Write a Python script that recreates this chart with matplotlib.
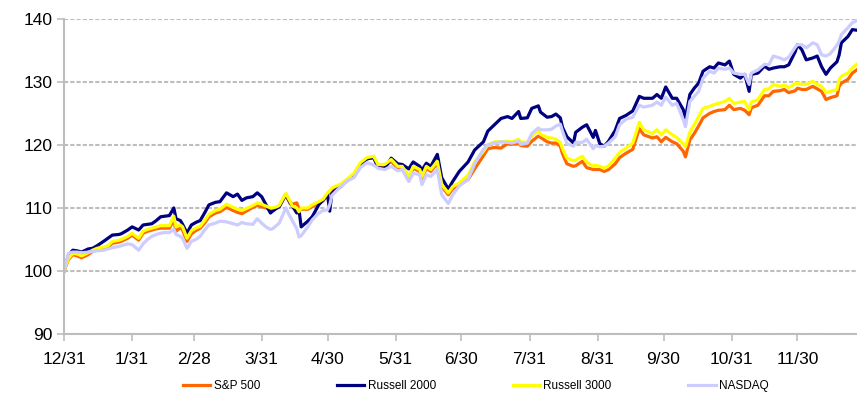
import matplotlib.pyplot as plt

# days after 12/31 of the previous year
days = [0, 2, 4, 6, 8, 11, 13, 15, 18, 20, 22, 25, 26, 29, 31, 34, 36, 38, 40, 42,
        44, 46, 48, 50, 51, 53, 54, 56, 58, 60, 62, 64, 66, 69, 71, 74, 77, 79, 81, 83,
        86, 88, 90, 92, 94, 95, 97, 98, 101, 103, 104, 106, 107, 108, 111, 113, 116, 118, 120, 121,
        122, 126, 129, 132, 135, 138, 141, 143, 146, 149, 152, 154, 157, 159, 162, 163, 165, 167, 170, 172,
        175, 177, 180, 184, 187, 191, 193, 196, 199, 202, 204, 207, 208, 211, 213, 216, 217, 220, 222, 224,
        226, 227, 229, 232, 233, 236, 238, 241, 242, 244, 246, 248, 251, 253, 256, 259, 262, 264, 268, 270,
        272, 274, 277, 279, 282, 283, 285, 287, 289, 291, 294, 296, 298, 301, 303, 305, 308, 310, 312, 313,
        316, 319, 321, 323, 326, 328, 330, 333, 334, 336, 338, 341, 343, 345, 347, 349, 352, 353, 354, 357,
        359, 361]

sp500 = [100, 101.8, 102.6, 102.4, 102.1, 102.6, 103.1, 103.4, 103.6, 103.8, 104.4, 104.6, 104.7, 105.2, 105.7, 104.9, 106.0, 106.3, 106.5, 106.7,
         106.8, 106.8, 106.8, 108.1, 106.3, 106.9, 106.5, 104.7, 105.9, 106.4, 106.8, 107.6, 108.6, 109.2, 109.4, 110.1, 109.6, 109.3, 109.1, 109.5,
         110.1, 110.4, 110.2, 110.0, 109.7, 109.8, 110.0, 110.2, 112.0, 110.7, 110.6, 110.8, 109.8, 109.8, 109.8, 110.2, 110.7, 111.1, 112.1, 112.4,
         112.9, 113.5, 114.3, 115.2, 116.9, 117.8, 118.0, 116.7, 116.6, 117.4, 116.3, 116.3, 114.7, 116.3, 115.8, 114.7, 116.3, 115.8, 117.1, 113.4,
         112.1, 113.0, 113.7, 114.5, 116.2, 118.3, 119.4, 119.6, 119.5, 120.2, 120.1, 120.3, 119.9, 119.8, 120.6, 121.4, 121.2, 120.5, 120.3, 120.3,
         119.8, 118.6, 117.0, 116.6, 116.7, 117.4, 116.4, 116.1, 116.1, 116.1, 115.8, 116.1, 117.0, 118.0, 118.7, 119.3, 122.6, 121.6, 121.1, 121.3,
         120.5, 121.2, 120.5, 120.2, 119.0, 118.1, 120.8, 121.8, 123.0, 124.3, 125.0, 125.3, 125.5, 125.6, 126.3, 125.6, 125.8, 125.5, 124.8, 125.9,
         126.3, 127.8, 127.8, 128.5, 128.6, 128.8, 128.3, 128.6, 129.0, 128.8, 128.8, 129.3, 128.9, 128.5, 127.2, 127.5, 127.8, 129.3, 129.8, 130.4,
         131.4, 131.9]

russell2000 = [100, 102.5, 103.3, 103.2, 103.0, 103.5, 103.6, 104.0, 104.7, 105.2, 105.7, 105.8, 105.9, 106.5, 107.0, 106.5, 107.3, 107.4, 107.5, 108.0,
               108.6, 108.7, 108.8, 110.0, 108.3, 108.0, 107.4, 106.0, 107.3, 107.7, 108.0, 109.2, 110.5, 110.9, 111.0, 112.4, 111.8, 112.2, 111.2, 111.6,
               111.8, 112.4, 111.8, 110.5, 109.2, 109.5, 110.0, 110.2, 112.2, 110.8, 110.3, 109.2, 109.7, 107.0, 107.9, 108.6, 110.5, 111.3, 112.1, 109.5,
               112.4, 113.4, 114.5, 115.0, 117.0, 117.8, 118.0, 116.4, 116.3, 117.9, 117.0, 116.9, 116.2, 117.3, 116.6, 116.0, 117.1, 116.6, 118.5, 114.8,
               113.0, 114.2, 115.8, 117.3, 119.2, 120.5, 122.2, 123.2, 124.2, 124.5, 124.2, 125.3, 124.2, 124.3, 125.8, 126.2, 125.2, 124.4, 124.5, 124.9,
               124.3, 122.8, 121.3, 120.3, 122.0, 122.8, 123.2, 121.2, 122.3, 120.2, 119.8, 120.6, 122.3, 124.2, 124.7, 125.4, 127.7, 127.4, 127.4, 128.0,
               127.4, 129.2, 127.4, 127.4, 125.6, 124.3, 128.0, 129.0, 129.8, 131.7, 132.4, 132.2, 133.0, 132.7, 133.3, 131.2, 130.6, 131.2, 128.5, 131.2,
               131.4, 132.5, 132.0, 132.2, 132.4, 132.4, 132.7, 134.8, 135.9, 135.1, 133.5, 133.8, 134.1, 132.4, 131.2, 132.2, 133.2, 134.3, 136.2, 137.2,
               138.3, 138.2]

russell3000 = [100, 102.0, 102.8, 102.7, 102.4, 102.9, 103.3, 103.6, 103.8, 104.0, 104.7, 104.9, 105.0, 105.5, 106.0, 105.2, 106.3, 106.6, 106.8, 107.0,
               107.2, 107.2, 107.2, 108.7, 107.0, 107.3, 107.0, 105.2, 106.4, 106.8, 107.1, 108.0, 109.0, 109.6, 109.8, 110.6, 110.1, 109.8, 109.6, 109.9,
               110.4, 110.8, 110.6, 110.3, 110.0, 110.0, 110.2, 110.4, 112.3, 111.0, 110.3, 110.0, 109.4, 110.0, 110.0, 110.5, 111.0, 111.4, 112.4, 112.7,
               113.2, 113.8, 114.6, 115.5, 117.2, 118.0, 118.2, 116.9, 116.9, 117.7, 116.6, 116.6, 115.0, 116.6, 116.1, 115.0, 116.6, 116.1, 117.4, 113.7,
               112.4, 113.4, 114.0, 115.2, 117.3, 119.0, 120.0, 120.5, 120.5, 120.6, 120.5, 120.9, 120.5, 120.4, 121.4, 122.3, 121.7, 121.2, 121.1, 120.9,
               120.4, 119.4, 117.9, 117.5, 117.6, 118.2, 117.3, 116.6, 116.8, 116.6, 116.3, 116.7, 117.9, 118.8, 119.5, 120.3, 123.6, 122.4, 121.8, 122.4,
               121.6, 122.4, 121.6, 121.2, 120.2, 119.7, 122.0, 123.2, 124.5, 125.8, 126.1, 126.4, 126.6, 126.9, 127.4, 126.6, 126.8, 126.9, 125.6, 126.8,
               127.2, 128.8, 128.9, 129.6, 129.3, 129.5, 129.1, 129.7, 129.8, 129.6, 129.6, 130.1, 129.6, 129.3, 128.3, 128.5, 128.8, 130.4, 130.9, 131.4,
               132.2, 132.8]

nasdaq = [100, 102.8, 103.0, 103.0, 102.9, 103.0, 103.1, 103.2, 103.3, 103.5, 103.7, 103.9, 104.0, 104.3, 104.2, 103.3, 104.3, 105.0, 105.5, 105.8,
          106.0, 106.1, 106.1, 106.6, 105.8, 105.5, 105.2, 103.6, 104.7, 105.0, 105.5, 106.5, 107.3, 107.6, 107.9, 107.8, 107.5, 107.3, 107.7, 107.5,
          107.4, 108.3, 107.6, 107.0, 106.6, 106.7, 107.3, 107.6, 110.0, 108.6, 108.0, 106.7, 105.4, 105.6, 107.0, 108.1, 109.2, 109.6, 109.7, 110.5,
          112.0, 113.4, 114.3, 114.8, 116.4, 117.2, 116.8, 116.3, 116.1, 116.6, 115.9, 116.1, 114.2, 115.5, 115.3, 113.7, 115.3, 115.0, 116.1, 112.1,
          110.7, 112.1, 113.5, 114.5, 117.0, 119.3, 120.0, 120.3, 120.5, 120.4, 120.3, 120.6, 120.1, 120.3, 121.8, 122.7, 122.4, 122.4, 122.5, 123.0,
          123.3, 122.2, 120.2, 119.8, 120.4, 120.4, 120.9, 119.4, 119.9, 119.7, 119.8, 120.3, 121.3, 123.2, 124.1, 124.4, 126.3, 126.0, 126.3, 126.8,
          126.3, 127.6, 126.3, 126.6, 124.0, 122.9, 126.9, 127.7, 128.5, 130.6, 131.7, 131.4, 132.2, 132.0, 132.2, 131.4, 131.2, 131.2, 129.6, 131.4,
          131.9, 132.8, 132.7, 134.1, 133.8, 133.5, 133.9, 135.5, 135.9, 135.9, 135.4, 136.2, 135.9, 134.3, 134.1, 134.5, 135.8, 136.5, 137.5, 138.6,
          139.4, 139.7]

month_ticks = [0, 31, 59, 90, 120, 151, 181, 212, 243, 273, 304, 334]
month_labels = ['12/31', '1/31', '2/28', '3/31', '4/30', '5/31', '6/30', '7/31', '8/31', '9/30', '10/31', '11/30']

plt.rcParams['font.family'] = ['Liberation Sans', 'DejaVu Sans']

fig = plt.figure(figsize=(8.57, 3.93), dpi=100)
ax = fig.add_axes([0.0747, 0.150, 0.925, 0.802])

ax.plot(days, sp500, color='#FF6600', lw=2.3, label='S&P 500')
ax.plot(days, russell2000, color='#000080', lw=2.3, label='Russell 2000')
ax.plot(days, russell3000, color='#FFFF00', lw=2.3, label='Russell 3000')
ax.plot(days, nasdaq, color='#CCCCFF', lw=2.3, label='NASDAQ')

ax.set_ylim(90, 140)
ax.set_xlim(0, 361)
ax.set_yticks(range(90, 141, 10))
ax.set_xticks(month_ticks)
ax.set_xticklabels(month_labels)
ax.yaxis.grid(True, color='#BDBDBD', ls=(0, (2, 1)), lw=1.5)
ax.set_axisbelow(True)
for s in ['top', 'right']:
    ax.spines[s].set_visible(False)
for s in ['left', 'bottom']:
    ax.spines[s].set_color('#BDBDBD')
    ax.spines[s].set_linewidth(1.5)
ax.tick_params(axis='both', colors='#BDBDBD', width=1.2, length=5, labelsize=12.5, labelcolor='black')
ax.tick_params(axis='x', pad=8)

fig.legend(loc='center', bbox_to_anchor=(476 / 857, 1 - 386 / 393), ncol=4, frameon=False,
           fontsize=8.5, handlelength=2.3, handletextpad=0.3, columnspacing=6.5)

plt.savefig('out.png', dpi=100)
